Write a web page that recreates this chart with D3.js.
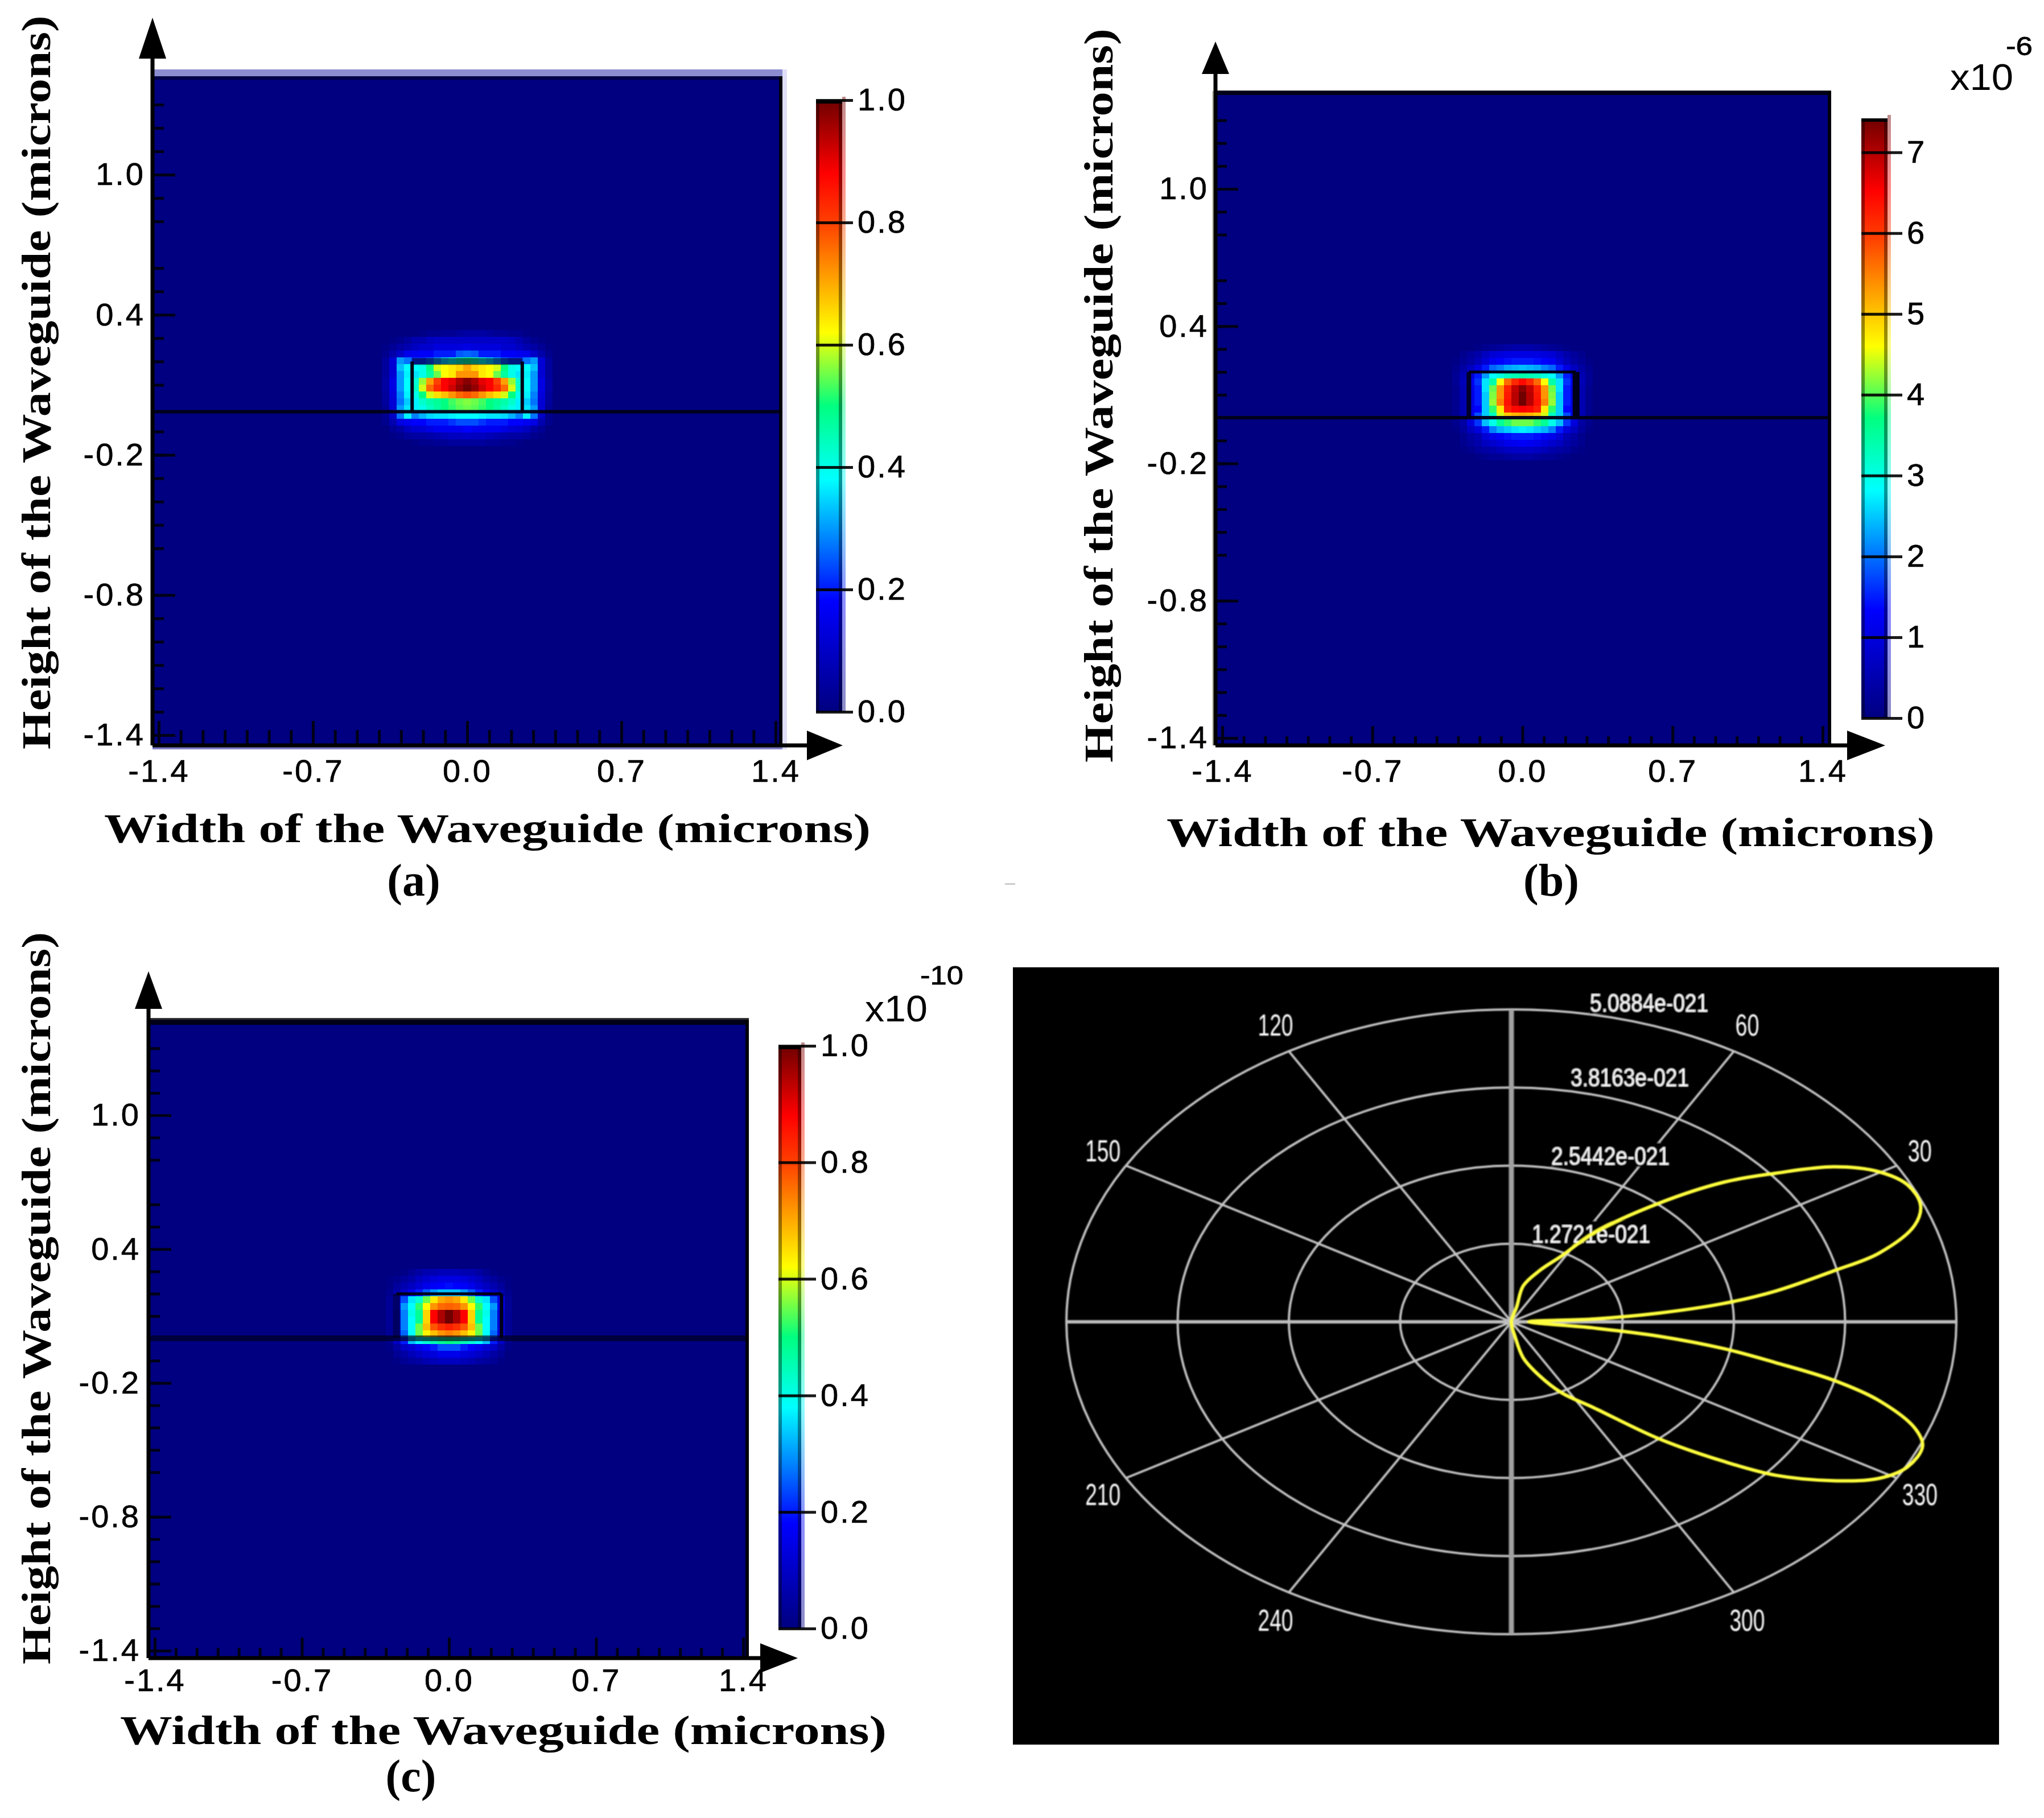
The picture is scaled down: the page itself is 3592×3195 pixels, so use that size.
<!DOCTYPE html>
<html lang="en">
<head>
<meta charset="UTF-8">
<title>Waveguide mode profiles</title>
<script src="https://d3js.org/d3.v7.min.js"></script>
<style>
    html, body { margin: 0; padding: 0; background: #fff; }
    svg { display: block; }
    .tick-text, .tick text { font-family: "Liberation Sans", Arial, sans-serif; }
    .title-text { font-family: "Liberation Serif", "Times New Roman", serif; font-weight: bold; fill: #000; }
</style>
</head>
<body>
<svg id="chart" width="3592" height="3195"></svg>
<script>
// tick values shared by the three mode plots
const xMajor = [-1.4, -0.7, 0, 0.7, 1.4];
const yMajor = [1.0, 0.4, -0.2, -0.8, -1.4];
const minorTicks = [-1.3, -1.2, -1.1, -1.0, -0.9, -0.8, -0.6, -0.5, -0.4, -0.3, -0.2, -0.1,
    0.1, 0.2, 0.3, 0.4, 0.5, 0.6, 0.8, 0.9, 1.0, 1.1, 1.2, 1.3];

// jet-like colour bar
const jetStops = [0, 0.18, 0.38, 0.5, 0.62, 0.8, 0.88, 1];
const jetColors = ["#000080", "#0000ff", "#00ffff", "#00ff80", "#ffff00", "#ff4000", "#ff0000", "#700000"];

// normalised field around the core, rows top to bottom, columns left to right
const fieldA = [
    [0,0,0,0,0,.01,.02,.02,.03,.03,.04,.05,.05,.05,.04,.03,.03,.02,.02,.01,0,0,0],
    [0,.01,.02,.04,.07,.07,.09,.10,.10,.10,.10,.10,.10,.10,.10,.10,.10,.09,.07,.04,.02,.01,0],
    [.01,.03,.05,.07,.09,.11,.11,.13,.13,.13,.13,.14,.13,.13,.13,.13,.11,.11,.09,.07,.05,.03,.01],
    [.02,.06,.10,.15,.16,.17,.17,.20,.20,.20,.25,.26,.25,.20,.20,.20,.17,.17,.16,.15,.10,.06,.02],
    [.04,.12,.30,.27,.22,.22,.25,.30,.35,.40,.45,.48,.45,.40,.35,.30,.25,.22,.22,.27,.30,.12,.04],
    [.04,.12,.33,.38,.38,.40,.50,.60,.62,.64,.66,.70,.66,.64,.62,.60,.50,.40,.38,.38,.33,.12,.04],
    [.04,.12,.30,.37,.36,.40,.47,.55,.62,.64,.72,.72,.72,.64,.62,.55,.47,.40,.36,.37,.30,.12,.04],
    [.05,.14,.30,.38,.42,.57,.71,.80,.88,.90,.95,.98,.95,.90,.88,.80,.71,.57,.42,.38,.30,.14,.05],
    [.05,.14,.30,.38,.43,.60,.76,.83,.88,.92,.97,1.0,.97,.92,.88,.83,.76,.60,.43,.38,.30,.14,.05],
    [.04,.13,.28,.37,.40,.50,.60,.65,.68,.72,.76,.78,.76,.72,.68,.65,.60,.50,.40,.37,.28,.13,.04],
    [.04,.12,.27,.34,.37,.43,.46,.48,.50,.53,.55,.56,.55,.53,.50,.48,.46,.43,.37,.34,.27,.12,.04],
    [.03,.12,.30,.36,.37,.40,.44,.47,.50,.52,.54,.55,.54,.52,.50,.47,.44,.40,.37,.36,.30,.12,.03],
    [.02,.10,.27,.37,.28,.32,.35,.36,.36,.37,.38,.38,.38,.37,.36,.36,.35,.32,.28,.37,.27,.10,.02],
    [.02,.07,.14,.16,.18,.18,.20,.20,.20,.22,.24,.24,.24,.22,.20,.20,.20,.18,.18,.16,.14,.07,.02],
    [0,.03,.05,.09,.11,.12,.14,.16,.16,.16,.16,.18,.16,.16,.16,.16,.14,.12,.11,.09,.05,.03,0],
    [0,.01,.02,.04,.05,.05,.06,.07,.08,.09,.09,.10,.09,.09,.08,.07,.06,.05,.05,.04,.02,.01,0],
    [0,0,0,0,.01,.02,.02,.03,.03,.04,.04,.04,.04,.04,.03,.03,.02,.02,.01,0,0,0,0]
];
const fieldB = [
    [0,0,0,.01,.02,.03,.04,.05,.06,.06,.06,.05,.04,.03,.02,.01,0,0,0],
    [0,.02,.04,.06,.09,.12,.13,.14,.14,.14,.14,.14,.13,.12,.09,.06,.04,.02,0],
    [.01,.03,.05,.08,.12,.16,.18,.19,.20,.20,.20,.19,.18,.16,.12,.08,.05,.03,.01],
    [.02,.05,.09,.14,.20,.26,.28,.31,.32,.33,.32,.31,.28,.26,.20,.14,.09,.05,.02],
    [.03,.07,.12,.20,.30,.38,.41,.44,.45,.46,.45,.44,.41,.38,.30,.20,.12,.07,.03],
    [.03,.08,.16,.22,.36,.46,.62,.76,.83,.87,.83,.76,.62,.46,.36,.22,.16,.08,.03],
    [.02,.07,.14,.20,.36,.55,.72,.84,.93,.98,.93,.84,.72,.55,.36,.20,.14,.07,.02],
    [.02,.07,.14,.20,.34,.56,.72,.85,.94,1.0,.94,.85,.72,.56,.34,.20,.14,.07,.02],
    [.02,.07,.14,.20,.34,.57,.74,.86,.94,1.0,.94,.86,.74,.57,.34,.20,.14,.07,.02],
    [.02,.07,.14,.18,.34,.52,.64,.84,.87,.88,.87,.84,.64,.52,.34,.18,.14,.07,.02],
    [.02,.07,.15,.24,.34,.44,.60,.67,.69,.70,.69,.67,.60,.44,.34,.24,.15,.07,.02],
    [.02,.05,.13,.22,.33,.40,.48,.52,.55,.55,.55,.52,.48,.40,.33,.22,.13,.05,.02],
    [.01,.04,.09,.13,.20,.28,.32,.34,.36,.37,.36,.34,.32,.28,.20,.13,.09,.04,.01],
    [0,.02,.05,.07,.12,.15,.17,.19,.20,.20,.20,.19,.17,.15,.12,.07,.05,.02,0],
    [0,.02,.04,.06,.09,.11,.13,.15,.16,.17,.16,.15,.13,.11,.09,.06,.04,.02,0],
    [0,.01,.02,.04,.05,.06,.08,.09,.10,.10,.10,.09,.08,.06,.05,.04,.02,.01,0],
    [0,0,0,.01,.02,.03,.03,.04,.05,.05,.05,.04,.03,.03,.02,.01,0,0,0]
];
const fieldC = [
    [0,0,.01,.03,.05,.07,.07,.08,.08,.08,.07,.07,.05,.03,.01,0,0],
    [.01,.02,.04,.06,.09,.11,.13,.14,.14,.14,.13,.11,.09,.06,.04,.02,.01],
    [.01,.04,.07,.09,.12,.15,.17,.18,.19,.18,.17,.15,.12,.09,.07,.04,.01],
    [.02,.06,.10,.15,.20,.25,.30,.33,.33,.33,.30,.25,.20,.15,.10,.06,.02],
    [.03,.14,.24,.36,.42,.55,.64,.70,.72,.70,.64,.55,.42,.36,.24,.14,.03],
    [.03,.15,.30,.38,.52,.62,.72,.76,.77,.76,.72,.62,.52,.38,.30,.15,.03],
    [.03,.12,.28,.40,.48,.66,.88,.95,1.0,.95,.88,.66,.48,.40,.28,.12,.03],
    [.03,.12,.28,.38,.48,.66,.88,.95,1.0,.95,.88,.66,.48,.38,.28,.12,.03],
    [.03,.12,.28,.38,.55,.68,.78,.82,.84,.82,.78,.68,.55,.38,.28,.12,.03],
    [.03,.12,.26,.38,.55,.63,.68,.72,.74,.72,.68,.63,.55,.38,.26,.12,.03],
    [.02,.10,.20,.33,.38,.42,.45,.48,.50,.48,.45,.42,.38,.33,.20,.10,.02],
    [.01,.05,.10,.12,.15,.18,.20,.24,.24,.24,.20,.18,.15,.12,.10,.05,.01],
    [0,.03,.05,.08,.10,.12,.13,.15,.15,.15,.13,.12,.10,.08,.05,.03,0],
    [0,.01,.03,.04,.05,.07,.08,.09,.09,.09,.08,.07,.05,.04,.03,.01,0]
];

const colorbarTicksA = [0, 0.2, 0.4, 0.6, 0.8, 1.0];
const colorbarTicksB = [0, 1, 2, 3, 4, 5, 6, 7];
const colorbarTicksC = [0, 0.2, 0.4, 0.6, 0.8, 1.0];

// polar plot (d), radii in units of 1e-21
const ringValues = [1.2721, 2.5442, 3.8163, 5.0884];
const ringLabels = ["1.2721e-021", "2.5442e-021", "3.8163e-021", "5.0884e-021"];
const spokeAngles = [0, 30, 60, 90, 120, 150, 180, 210, 240, 270, 300, 330];
const angleLabels = [30, 60, 120, 150, 210, 240, 300, 330];
const lobeAngles = [0, 76, 77, 69, 61.8, 56.9, 48.9, 43.1, 38.7, 34.4, 30.2, 26.2, 22.1, 18.8, 14.9, 12.7, 9.4, 7.0, 4.8, 2.8, 0.5,
    -6.1, -7.9, -10.2, -12.4, -14.5, -17, -20.6, -23.3, -27.5, -31.2, -35.1, -39.6, -43.1, -48.5, -56, -63.6, -70, -77, -80];
const lobeRadii = [0, .25, .60, .89, 1.22, 1.73, 2.56, 3.33, 3.87, 4.47, 4.86, 5.05, 5.05, 4.87, 4.35, 3.78, 3.06, 2.44, 1.69, .95, .2,
    .95, 1.70, 2.47, 3.09, 3.81, 4.40, 4.93, 5.12, 5.11, 4.92, 4.50, 3.92, 3.33, 2.54, 1.69, 1.29, .93, .60, .25];

const svg = d3.select("#chart");
const jet = d3.scaleLinear().domain(jetStops).range(jetColors).interpolate(d3.interpolateRgb);

const defs = svg.append("defs");
defs.append("linearGradient").attr("id", "jetBar")
    .attr("x1", 0).attr("y1", 1).attr("x2", 0).attr("y2", 0)
    .selectAll("stop").data(jetStops).join("stop")
    .attr("offset", d => d)
    .attr("stop-color", (d, i) => jetColors[i]);
defs.append("filter").attr("id", "soft")
    .append("feGaussianBlur").attr("stdDeviation", 0.9);

function modePanel(p) {
    const g = svg.append("g");
    const x = d3.scaleLinear().domain([-1.4, 1.4]).range(p.xRange);
    const y = d3.scaleLinear().domain([-1.4, 1.0]).range(p.yRange);

    // lavender fringe the original has round the plot
    p.fringe.forEach(f => g.append("rect")
        .attr("x", f[0]).attr("y", f[1]).attr("width", f[2]).attr("height", f[3]).attr("fill", f[4]));

    g.append("rect")
        .attr("x", p.left).attr("y", p.top)
        .attr("width", p.right - p.left).attr("height", p.bottom - p.top)
        .attr("fill", jetColors[0]);

    // field cells, centred on x = 0
    const cells = p.field.flatMap((row, r) => row.map((v, c) => ({r, c, v, n: row.length})));
    g.append("g").selectAll("rect").data(cells).join("rect")
        .attr("x", d => x((d.c - (d.n - 1) / 2 - 0.5) * p.cellW))
        .attr("width", x(p.cellW) - x(0) + 0.4)
        .attr("y", d => y(p.yTop - d.r * p.cellH))
        .attr("height", y(0) - y(p.cellH) + 0.4)
        .attr("fill", d => jet(d.v))
        .attr("shape-rendering", "crispEdges");

    // substrate line and core outline
    const lines = g.append("g").attr("stroke", "#000018");
    lines.append("line").attr("x1", p.left).attr("x2", p.right)
        .attr("y1", y(p.lineY)).attr("y2", y(p.lineY))
        .attr("stroke-width", p.substrate[0]).attr("opacity", p.substrate[1]);
    lines.append("line").attr("x1", x(-0.25)).attr("x2", x(0.25))
        .attr("y1", y(0.2)).attr("y2", y(0.2))
        .attr("stroke-width", p.coreTop[0]).attr("opacity", p.coreTop[1]);
    lines.append("line").attr("x1", x(-0.25)).attr("x2", x(-0.25))
        .attr("y1", y(0.2)).attr("y2", y(p.lineY))
        .attr("stroke-width", p.coreLeft[0]).attr("opacity", p.coreLeft[1]);
    lines.append("line").attr("x1", x(0.25)).attr("x2", x(0.25))
        .attr("y1", y(0.2)).attr("y2", y(p.lineY))
        .attr("stroke-width", p.coreRight[0]).attr("opacity", p.coreRight[1]);

    // axes: ticks point into the plot
    const axisStyle = sel => {
        sel.select(".domain").remove();
        sel.selectAll(".tick line").attr("stroke", "#000018").attr("stroke-width", 5);
        sel.selectAll(".tick text")
            .attr("fill", "#000").attr("stroke", "#000").attr("stroke-width", 0.7)
            .style("font-size", "56px").style("letter-spacing", "3px");
    };
    const fmt = d => d.toFixed(1);
    g.append("g").attr("transform", `translate(0,${p.bottom})`)
        .call(d3.axisBottom(x).tickValues(minorTicks).tickSize(-p.minorLen).tickFormat(""))
        .call(axisStyle);
    g.append("g").attr("transform", `translate(0,${p.bottom})`)
        .call(d3.axisBottom(x).tickValues(xMajor).tickSize(-p.majorLen).tickPadding(p.xPad).tickFormat(fmt))
        .call(axisStyle);
    g.append("g").attr("transform", `translate(${p.left},0)`)
        .call(d3.axisLeft(y).tickValues(minorTicks).tickSize(-20).tickFormat(""))
        .call(axisStyle);
    g.append("g").attr("transform", `translate(${p.left},0)`)
        .call(d3.axisLeft(y).tickValues(yMajor).tickSize(-40).tickPadding(p.yPad).tickFormat(fmt))
        .call(axisStyle);

    // axis lines and arrows
    const axisLines = g.append("g").attr("stroke", "#000").attr("stroke-width", 7);
    axisLines.append("line").attr("x1", p.left).attr("x2", p.left).attr("y1", p.arrowUp[1]).attr("y2", p.bottom);
    axisLines.append("line").attr("x1", p.left).attr("x2", p.arrowRight[0]).attr("y1", p.bottom).attr("y2", p.bottom);
    axisLines.append("line").attr("x1", p.left).attr("x2", p.right).attr("y1", p.top + 3).attr("y2", p.top + 3)
        .attr("stroke-width", p.edge[0]).attr("opacity", p.edge[1]);
    axisLines.append("line").attr("x1", p.right - 3).attr("x2", p.right - 3).attr("y1", p.top).attr("y2", p.bottom)
        .attr("stroke-width", 6).attr("opacity", 0.9);
    g.append("path").attr("fill", "#000")
        .attr("d", `M${p.left},${p.arrowUp[0]}L${p.left - 24},${p.arrowUp[1]}L${p.left + 24},${p.arrowUp[1]}Z`);
    g.append("path").attr("fill", "#000")
        .attr("d", `M${p.arrowRight[1]},${p.bottom}L${p.arrowRight[0]},${p.bottom - 26}L${p.arrowRight[0]},${p.bottom + 26}Z`);

    // colour bar
    const b = p.bar;
    const by = d3.scaleLinear().domain([0, b.max]).range([b.bottom, b.top]);
    const barH = b.bottom - b.top;
    g.append("rect").attr("x", b.x + b.w).attr("y", b.top - 6).attr("width", 6).attr("height", barH + 6)
        .attr("fill", "url(#jetBar)").attr("opacity", 0.45);
    g.append("rect").attr("x", b.x).attr("y", b.top).attr("width", b.w).attr("height", barH)
        .attr("fill", "url(#jetBar)");
    [b.x, b.x + b.w - 6].forEach(bx => g.append("rect")
        .attr("x", bx).attr("y", b.top).attr("width", 6).attr("height", barH)
        .attr("fill", "#000").attr("opacity", 0.4));
    g.append("rect").attr("x", b.x).attr("y", b.top).attr("width", b.w).attr("height", 6).attr("fill", "#000");
    g.append("g").attr("transform", `translate(${b.x},0)`)
        .call(d3.axisRight(by).tickValues(b.ticks).tickSize(b.tick).tickPadding(8).tickFormat(b.fmt))
        .call(sel => {
            sel.select(".domain").remove();
            sel.selectAll(".tick line").attr("stroke", "#000").attr("stroke-width", 5).attr("opacity", 0.9);
            sel.selectAll(".tick text")
                .attr("fill", "#000").attr("stroke", "#000").attr("stroke-width", 0.7)
                .style("font-size", "56px").style("letter-spacing", "3px");
        });
    if (p.power) {
        g.append("text").attr("class", "tick-text").attr("x", p.power.x).attr("y", p.power.y)
            .attr("textLength", p.power.len).attr("lengthAdjust", "spacingAndGlyphs")
            .style("font-size", "64px").text("x10");
        g.append("text").attr("class", "tick-text").attr("x", p.power.ex).attr("y", p.power.ey)
            .attr("textLength", p.power.elen).attr("lengthAdjust", "spacingAndGlyphs")
            .attr("stroke", "#000").attr("stroke-width", 0.8)
            .style("font-size", "46px").text(p.power.exp);
    }

    // titles
    g.append("text").attr("class", "title-text")
        .attr("x", p.xTitle[0]).attr("y", p.xTitle[1])
        .attr("textLength", p.xTitle[2]).attr("lengthAdjust", "spacingAndGlyphs")
        .style("font-size", "72px").text("Width of the Waveguide (microns)");
    g.append("text").attr("class", "title-text")
        .attr("transform", `translate(${p.yTitle[0]},${p.yTitle[1]}) rotate(-90)`)
        .attr("textLength", p.yTitle[2]).attr("lengthAdjust", "spacingAndGlyphs")
        .style("font-size", "72px").text("Height of the Waveguide (microns)");
    g.append("text").attr("class", "title-text").attr("text-anchor", "middle")
        .attr("x", p.caption[0]).attr("y", p.caption[1])
        .style("font-size", "80px").text(p.caption[2]);
}

modePanel({
    field: fieldA, cellW: 13 / 387, cellH: 12 / 410.4, yTop: 0.335, lineY: -0.015,
    left: 268, right: 1375, top: 134, bottom: 1310,
    xRange: [279, 1363], yRange: [1292, 307], minorLen: 27, majorLen: 43, xPad: 24, yPad: 13,
    fringe: [[268, 122, 1107, 12, "#8c8cd0"], [268, 1310, 1107, 7, "#8080c8"], [1375, 122, 8, 1195, "#dedef8"]],
    substrate: [6, 0.95], coreTop: [12, 0.55], coreLeft: [6, 1], coreRight: [6, 1],
    arrowUp: [31, 103], arrowRight: [1418, 1481], edge: [6, 0.45],
    bar: {x: 1434, w: 46, top: 176, bottom: 1251, max: 1, tick: 65, ticks: colorbarTicksA, fmt: d => d.toFixed(1)},
    xTitle: [183, 1480, 1347], yTitle: [88, 1317, 1290], caption: [727, 1574, "(a)"]
});
modePanel({
    field: fieldB, cellW: 13 / 377, cellH: 12 / 402, yTop: 0.322, lineY: 0,
    left: 2136, right: 3218, top: 160, bottom: 1310,
    xRange: [2148, 3203], yRange: [1297, 332], minorLen: 16, majorLen: 34, xPad: 24, yPad: 12,
    fringe: [[2130, 160, 5, 1150, "#c8c8b8"]],
    substrate: [6, 0.95], coreTop: [5, 1], coreLeft: [8, 0.9], coreRight: [12, 1],
    arrowUp: [73, 130], arrowRight: [3246, 3313], edge: [8, 0.8],
    bar: {x: 3271, w: 46, top: 208, bottom: 1262, max: 7.42, tick: 72, ticks: colorbarTicksB, fmt: d => d},
    power: {x: 3427, y: 158, len: 111, ex: 3525, ey: 97, elen: 47, exp: "-6"},
    xTitle: [2050, 1487, 1350], yTitle: [1955, 1340, 1290], caption: [2726, 1574, "(b)"]
});
modePanel({
    field: fieldC, cellW: 13 / 369, cellH: 12 / 392, yTop: 0.312, lineY: 0,
    left: 261, right: 1316, top: 1792, bottom: 2914,
    xRange: [272, 1306], yRange: [2901, 1960], minorLen: 18, majorLen: 36, xPad: 18, yPad: 14,
    fringe: [],
    substrate: [10, 0.65], coreTop: [5, 1], coreLeft: [12, 0.6], coreRight: [6, 1],
    arrowUp: [1707, 1773], arrowRight: [1336, 1402], edge: [12, 0.8],
    bar: {x: 1368, w: 40, top: 1838, bottom: 2862, max: 1, tick: 66, ticks: colorbarTicksC, fmt: d => d.toFixed(1)},
    power: {x: 1520, y: 1795, len: 110, ex: 1617, ey: 1730, elen: 76, exp: "-10"},
    xTitle: [211, 3065, 1347], yTitle: [88, 2925, 1287], caption: [722, 3148, "(c)"]
});

// small stray dash between the panels
svg.append("rect").attr("x", 1766).attr("y", 1552).attr("width", 18).attr("height", 3).attr("fill", "#ccc");

// polar plot (d): a circular plot stretched to an ellipse
const polar = svg.append("g");
polar.append("rect").attr("x", 1780).attr("y", 1700).attr("width", 1733).attr("height", 1366).attr("fill", "#000");
const cx = 2656, cy = 2323;
const rX = d3.scaleLinear().domain([0, 5.0884]).range([0, 782]);
const rY = d3.scaleLinear().domain([0, 5.0884]).range([0, 549]);
const px = (r, a) => cx + rX(r) * Math.cos(a * Math.PI / 180);
const py = (r, a) => cy - rY(r) * Math.sin(a * Math.PI / 180);

const plot = polar.append("g").attr("filter", "url(#soft)");
plot.selectAll(".ring").data(ringValues).join("ellipse")
    .attr("cx", cx).attr("cy", cy)
    .attr("rx", d => rX(d)).attr("ry", d => rY(d))
    .attr("fill", "none").attr("stroke", "#c4c4c4").attr("stroke-width", 4);
plot.selectAll(".spoke").data(spokeAngles).join("line")
    .attr("x1", cx).attr("y1", cy)
    .attr("x2", d => px(5.0884, d)).attr("y2", d => py(5.0884, d))
    .attr("stroke", d => d % 180 === 0 ? "#bcbcbc" : d % 90 === 0 ? "#a0a0a0" : "#c4c4c4")
    .attr("stroke-width", d => d % 180 === 0 ? 6 : d % 90 === 0 ? 9 : 4);

const polarFont = sel => sel
    .attr("class", "tick-text").attr("fill", "#fff").attr("text-anchor", "middle")
    .attr("lengthAdjust", "spacingAndGlyphs");

// radial value labels sit on a black patch that cuts the ring
ringValues.forEach((v, i) => {
    const tx = cx + rX(v) * 0.174 + 106;
    const ty = cy - rY(v) - 12 - (i < 3 ? 6 : 0);
    plot.append("rect").attr("x", tx - 105).attr("y", ty - 22).attr("width", 210).attr("height", 42).attr("fill", "#000");
    plot.append("text").call(polarFont)
        .attr("x", tx).attr("y", ty + 16)
        .attr("textLength", 208)
        .style("font-size", "44px").text(ringLabels[i]);
});
plot.selectAll(".angle").data(angleLabels).join("text").call(polarFont)
    .attr("x", d => cx + rX(5.0884) * 1.06 * Math.cos(d * Math.PI / 180))
    .attr("y", d => cy - rY(5.0884) * 1.1 * Math.sin(d * Math.PI / 180) + 20)
    .attr("textLength", d => d < 100 ? 42 : 62)
    .style("font-size", "54px").text(d => d);

const lobe = d3.line()
    .x((d, i) => px(lobeRadii[i], lobeAngles[i]))
    .y((d, i) => py(lobeRadii[i], lobeAngles[i]))
    .curve(d3.curveCatmullRomClosed.alpha(0.5));
plot.append("path").attr("d", lobe(lobeAngles))
    .attr("fill", "none").attr("stroke", "#ffff3c").attr("stroke-width", 6);
</script>
</body>
</html>
